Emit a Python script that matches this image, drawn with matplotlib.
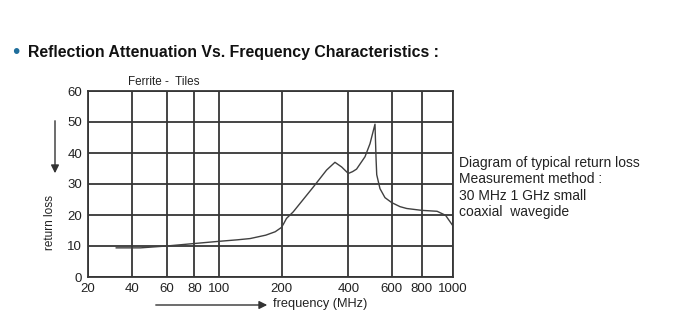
import matplotlib
matplotlib.use("Agg")
import matplotlib.pyplot as plt
import numpy as np

plt.rcParams['font.family'] = ['Liberation Sans', 'DejaVu Sans']

# x axis of the original is not a true log scale: tick -> pixel column
tick_freqs = [20, 40, 60, 80, 100, 200, 400, 600, 800, 1000]
tick_cols = [87.5, 131.7, 166.7, 194.3, 218.7, 281.5, 348.3, 391.7, 421.7, 452.5]

y_ticks = [0, 10, 20, 30, 40, 50, 60]

# return loss curve (MHz, dB)
freq = [33, 45, 60, 80, 100, 130, 150, 175, 190, 200, 207, 215, 235, 265, 295,
        335, 360, 380, 400, 420, 438, 477, 500, 523, 528, 531, 546, 569,
        600, 655, 700, 800, 900, 955, 1000]
loss = [9.4, 9.4, 10.0, 10.8, 11.5, 12.0, 12.4, 13.5, 14.6, 16.0, 17.3, 18.9,
        21.0, 25.0, 29.0, 34.5, 37.0, 35.5, 33.4, 34.0, 34.8, 38.8, 43.0,
        49.3, 38.0, 33.0, 28.5, 25.6, 24.0, 22.7, 22.1, 21.5, 21.2, 19.9, 16.7]


def fwd(x):
    return np.interp(x, tick_freqs, tick_cols)


def inv(p):
    return np.interp(p, tick_cols, tick_freqs)


W, H = 690, 325
fig = plt.figure(figsize=(W / 100, H / 100), dpi=100)

left, right, top, bottom = 87.5, 452.5, 91, 277
ax = fig.add_axes([left / W, 1 - bottom / H, (right - left) / W, (bottom - top) / H])

grid_col = '#363636'
ax.set_xscale('function', functions=(fwd, inv))
ax.set_xlim(20, 1000)
ax.set_ylim(0, 60)
ax.set_xticks(tick_freqs)
ax.set_xticklabels([str(t) for t in tick_freqs])
ax.set_yticks(y_ticks)
ax.minorticks_off()
ax.tick_params(length=0, labelsize=9.5, colors='#222222', pad=4)
ax.grid(True, color=grid_col, linewidth=1.3)
for s in ax.spines.values():
    s.set_color(grid_col)
    s.set_linewidth(1.3)

ax.plot(freq, loss, color='#404040', linewidth=1.0)

# heading
fig.text(12 / W, 1 - 53 / H, '\u2022', fontsize=15, color='#1f6e9c',
         va='center', ha='left')
fig.text(28 / W, 1 - 53 / H, 'Reflection Attenuation Vs. Frequency Characteristics :',
         fontsize=11.4, fontweight='bold', color='#111111', va='center', ha='left')

fig.text(128 / W, 1 - 82 / H, 'Ferrite -  Tiles', fontsize=8.4, color='#222222',
         va='center', ha='left')

# y label + arrow
fig.text(50 / W, 1 - 223 / H, 'return loss', rotation=90, fontsize=8.5,
         color='#222222', va='center', ha='center')
fig.add_artist(matplotlib.patches.FancyArrowPatch(
    (55 / W, 1 - 118 / H), (55 / W, 1 - 176 / H), transform=fig.transFigure,
    arrowstyle='-|>', mutation_scale=12, color='#333333', linewidth=1.0))

# x label + arrow
fig.add_artist(matplotlib.patches.FancyArrowPatch(
    (153 / W, 1 - 305 / H), (270 / W, 1 - 305 / H), transform=fig.transFigure,
    arrowstyle='-|>', mutation_scale=12, color='#333333', linewidth=1.0))
fig.text(273 / W, 1 - 304 / H, 'frequency (MHz)', fontsize=9.2, color='#222222',
         va='center', ha='left')

notes = ['Diagram of typical return loss', 'Measurement method :',
         '30 MHz 1 GHz small', 'coaxial  wavegide']
for i, line in enumerate(notes):
    fig.text(459 / W, 1 - (163 + 16.3 * i) / H, line, fontsize=10,
             color='#222222', va='center', ha='left')

fig.savefig('out.png', dpi=100)
